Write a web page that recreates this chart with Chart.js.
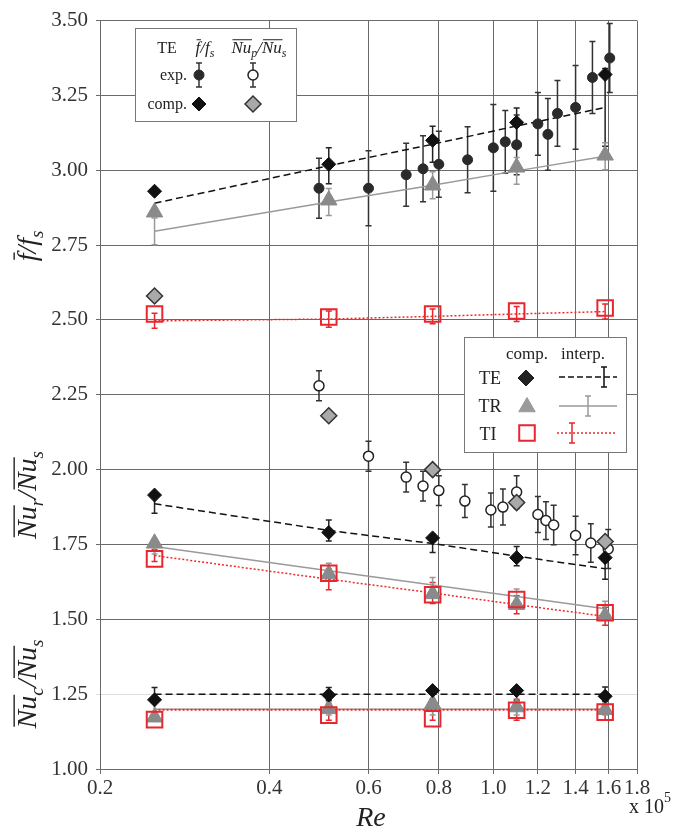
<!DOCTYPE html>
<html>
<head>
<meta charset="utf-8">
<script src="https://cdn.jsdelivr.net/npm/chart.js@4.4.0/dist/chart.umd.min.js"></script>
<style>
  html, body { margin: 0; padding: 0; background: #fff; }
</style>
</head>
<body>
<canvas id="c" width="674" height="836"></canvas>
<script>
// Re in units of 10^5
const compRe = [0.25, 0.51, 0.78, 1.10, 1.58];
const xTicks = [0.2, 0.4, 0.6, 0.8, 1.0, 1.2, 1.4, 1.6, 1.8];

// f/fs (TE, TR, TI computations + interpolation)
const ffTeComp = [2.93, 3.02, 3.10, 3.16, 3.32];
const ffTrComp = [2.86, 2.90, 2.95, 3.01, 3.05];
const ffTiComp = [2.52, 2.51, 2.52, 2.53, 2.54];
const ffTeInterp = [2.89, 3.015, 3.087, 3.148, 3.21];
const ffTeInterpErr = [0, 0.06, 0.06, 0.06, 0.13];
const ffTrInterp = [2.796, 2.894, 2.95, 2.998, 3.047];
const ffTrInterpErr = [0.045, 0.045, 0.045, 0.045, 0.045];
const ffTiInterp = [2.497, 2.503, 2.512, 2.52, 2.528];
const ffTiInterpErr = [0.025, 0.027, 0.025, 0.025, 0.025];

// f/fs experiments (TE)
const ffExpRe = [0.49, 0.60, 0.70, 0.75, 0.80, 0.90, 1.00, 1.05, 1.10, 1.20, 1.25, 1.30, 1.40, 1.50, 1.61];
const ffExp = [2.94, 2.94, 2.985, 3.005, 3.02, 3.035, 3.075, 3.095, 3.085, 3.155, 3.12, 3.19, 3.21, 3.31, 3.375];
const ffExpErr = [0.10, 0.125, 0.105, 0.11, 0.11, 0.11, 0.145, 0.105, 0.10, 0.105, 0.12, 0.11, 0.14, 0.12, 0.115];

// Nu_p/Nu_s (TE)
const nupComp = [2.58, 2.18, 2.00, 1.89, 1.76];
const nupExpRe = [0.49, 0.60, 0.70, 0.75, 0.80, 0.89, 0.99, 1.04, 1.10, 1.20, 1.24, 1.28, 1.40, 1.49, 1.60];
const nupExp = [2.28, 2.045, 1.975, 1.945, 1.93, 1.895, 1.865, 1.875, 1.925, 1.85, 1.83, 1.815, 1.78, 1.755, 1.735];
const nupExpErr = [0.05, 0.05, 0.05, 0.05, 0.05, 0.055, 0.057, 0.06, 0.055, 0.06, 0.063, 0.066, 0.064, 0.064, 0.065];

// Nu_r/Nu_s
const nurTeComp = [1.915, 1.79, 1.772, 1.706, 1.706];
const nurTrComp = [1.754, 1.651, 1.585, 1.549, 1.512];
const nurTiComp = [1.702, 1.654, 1.582, 1.566, 1.522];
const nurTeInterp = [1.886, 1.797, 1.753, 1.711, 1.669];
const nurTeInterpErr = [0.032, 0.035, 0.03, 0.032, 0.035];
const nurTrInterp = [1.743, 1.662, 1.615, 1.576, 1.535];
const nurTrInterpErr = [0.025, 0.025, 0.025, 0.025, 0.025];
const nurTiInterp = [1.713, 1.634, 1.588, 1.549, 1.51];
const nurTiInterpErr = [0.02, 0.035, 0.035, 0.03, 0.03];

// Nu_c/Nu_s
const nucTeComp = [1.231, 1.247, 1.262, 1.262, 1.243];
const nucTrComp = [1.173, 1.201, 1.218, 1.207, 1.198];
const nucTiComp = [1.165, 1.18, 1.168, 1.196, 1.19];
const nucTeInterp = [1.25, 1.25, 1.25, 1.25, 1.25];
const nucTeInterpErr = [0.022, 0.022, 0.022, 0.022, 0.024];
const nucTrInterp = [1.20, 1.20, 1.20, 1.20, 1.20];
const nucTrInterpErr = [0.02, 0.02, 0.02, 0.02, 0.02];
const nucTiInterp = [1.198, 1.198, 1.198, 1.198, 1.198];
const nucTiInterpErr = [0.035, 0.035, 0.035, 0.035, 0.035];

const SERIF = '"Liberation Serif", "DejaVu Serif", serif';
const RED = '#e8262e';

const pts = (xs, ys) => xs.map((x, i) => ({ x: x, y: ys[i] }));

function interpLine(ys, errs, kind, width) {
  const st = {
    te: { borderColor: '#111', borderDash: [7, 4], errColor: '#222' },
    tr: { borderColor: '#9a9a9a', borderDash: [], errColor: '#999' },
    ti: { borderColor: '#ee2b2b', borderDash: [2, 2], errColor: RED }
  }[kind];
  return {
    type: 'line', data: pts(compRe, ys), errs: errs, errColor: st.errColor,
    borderColor: st.borderColor, borderDash: st.borderDash, borderWidth: width || 1.5,
    pointRadius: 0, fill: false, tension: 0
  };
}

const datasets = [
  { // TI comp
    data: pts(compRe, ffTiComp).concat(pts(compRe, nurTiComp), pts(compRe, nucTiComp)),
    pointStyle: 'rect', pointRadius: 11, backgroundColor: 'rgba(0,0,0,0)',
    borderColor: RED, pointBorderWidth: 2, showLine: false
  },
  { // TE comp f/fs and Nu_r, Nu_c
    data: pts(compRe, ffTeComp).concat(pts(compRe, nurTeComp), pts(compRe, nucTeComp)),
    pointStyle: 'rectRot', pointRadius: 7, backgroundColor: '#111',
    borderColor: '#111', pointBorderWidth: 1, showLine: false
  },
  { // TR comp
    data: pts(compRe, ffTrComp).concat(pts(compRe, nurTrComp), pts(compRe, nucTrComp)),
    pointStyle: 'triangle', pointRadius: 9.5, backgroundColor: '#8a8a8a',
    borderColor: '#8a8a8a', pointBorderWidth: 1, showLine: false
  },
  { // TE comp Nu_p
    data: pts(compRe, nupComp),
    pointStyle: 'rectRot', pointRadius: 8, backgroundColor: '#a9a9a9',
    borderColor: '#333', pointBorderWidth: 1.5, showLine: false
  },
  { // exp f/fs
    data: pts(ffExpRe, ffExp), errs: ffExpErr, errColor: '#333',
    pointStyle: 'circle', pointRadius: 5, backgroundColor: '#2a2a2a',
    borderColor: '#2a2a2a', pointBorderWidth: 1, showLine: false
  },
  { // exp Nu_p
    data: pts(nupExpRe, nupExp), errs: nupExpErr, errColor: '#333',
    pointStyle: 'circle', pointRadius: 5, backgroundColor: '#fff',
    borderColor: '#222', pointBorderWidth: 1.5, showLine: false
  },
  interpLine(ffTiInterp, ffTiInterpErr, 'ti'),
  interpLine(nurTiInterp, nurTiInterpErr, 'ti'),
  interpLine(nucTiInterp, nucTiInterpErr, 'ti', 2.2),
  interpLine(ffTeInterp, ffTeInterpErr, 'te'),
  interpLine(nurTeInterp, nurTeInterpErr, 'te'),
  interpLine(nucTeInterp, nucTeInterpErr, 'te'),
  interpLine(ffTrInterp, ffTrInterpErr, 'tr'),
  interpLine(nurTrInterp, nurTrInterpErr, 'tr'),
  interpLine(nucTrInterp, nucTrInterpErr, 'tr')
];

function errBar(ctx, px, top, bot, cap) {
  ctx.beginPath();
  ctx.moveTo(px, top); ctx.lineTo(px, bot);
  ctx.moveTo(px - cap, top); ctx.lineTo(px + cap, top);
  ctx.moveTo(px - cap, bot); ctx.lineTo(px + cap, bot);
  ctx.stroke();
}

const errorBars = {
  id: 'errorBars',
  beforeDatasetsDraw(chart) {
    const ctx = chart.ctx, xs = chart.scales.x, ys = chart.scales.y;
    chart.data.datasets.forEach(ds => {
      if (!ds.errs) return;
      ctx.save();
      ctx.strokeStyle = ds.errColor;
      ctx.lineWidth = 1.5;
      ds.data.forEach((p, i) => {
        const e = ds.errs[i];
        if (!e) return;
        errBar(ctx, xs.getPixelForValue(p.x), ys.getPixelForValue(p.y + e), ys.getPixelForValue(p.y - e), 3);
      });
      ctx.restore();
    });
  }
};

// text with overlines / subscripts, baseline at (x0, y0), centered on x0
function mathText(ctx, parts, x0, y0, size) {
  const main = 'italic ' + size + 'px ' + SERIF;
  const sub = 'italic ' + Math.round(size * 0.68) + 'px ' + SERIF;
  let w = 0;
  parts.forEach(p => { ctx.font = p.sub ? sub : main; p.w = ctx.measureText(p.t).width; w += p.w; });
  let x = x0 - w / 2;
  ctx.textAlign = 'left';
  ctx.textBaseline = 'alphabetic';
  parts.forEach(p => {
    ctx.font = p.sub ? sub : main;
    ctx.fillText(p.t, x, y0 + (p.sub ? size * 0.25 : 0));
    if (p.over) {
      ctx.beginPath();
      ctx.lineWidth = Math.max(1, size / 20);
      const oy = y0 - size * 0.78;
      ctx.moveTo(x + size * 0.06, oy); ctx.lineTo(x + p.w + size * 0.04, oy);
      ctx.stroke();
    }
    x += p.w;
  });
}

const ffParts = () => [{ t: 'f', over: true }, { t: '/' }, { t: 'f' }, { t: 's', sub: true }];
const nuParts = (s) => [{ t: 'Nu', over: true }, { t: s, sub: true }, { t: '/' }, { t: 'Nu', over: true }, { t: 's', sub: true }];

function marker(ctx, style, x, y, r, fill, stroke, bw) {
  ctx.save();
  ctx.fillStyle = fill; ctx.strokeStyle = stroke; ctx.lineWidth = bw;
  Chart.helpers.drawPoint(ctx, { pointStyle: style, radius: r, rotation: 0, borderWidth: bw }, x, y);
  ctx.restore();
}

const annotations = {
  id: 'annotations',
  afterDraw(chart) {
    const ctx = chart.ctx;
    ctx.save();
    ctx.fillStyle = '#222'; ctx.strokeStyle = '#222';

    // y titles
    [[ffParts(), 246], [nuParts('r'), 495], [nuParts('c'), 684]].forEach(([parts, yc]) => {
      ctx.save();
      ctx.translate(36, yc);
      ctx.rotate(-Math.PI / 2);
      mathText(ctx, parts, 0, 0, 28);
      ctx.restore();
    });

    // x title and multiplier
    ctx.font = 'italic 28px ' + SERIF;
    ctx.textAlign = 'center'; ctx.textBaseline = 'alphabetic';
    ctx.fillText('Re', 371, 826);
    ctx.font = '20px ' + SERIF;
    ctx.textAlign = 'right';
    ctx.fillText('x 10', 664, 813);
    ctx.font = '14px ' + SERIF;
    ctx.textAlign = 'left';
    ctx.fillText('5', 664, 802);

    // legend 1
    ctx.fillStyle = '#fff'; ctx.strokeStyle = '#777'; ctx.lineWidth = 1;
    ctx.fillRect(135.5, 28.5, 161, 93); ctx.strokeRect(135.5, 28.5, 161, 93);
    ctx.fillStyle = '#222'; ctx.strokeStyle = '#222';
    ctx.font = '16px ' + SERIF; ctx.textAlign = 'center'; ctx.textBaseline = 'alphabetic';
    ctx.fillText('TE', 167, 53);
    mathText(ctx, ffParts(), 205, 53, 17);
    mathText(ctx, [{ t: 'Nu', over: true }, { t: 'p', sub: true }, { t: '/' }, { t: 'Nu', over: true }, { t: 's', sub: true }], 259, 53, 17);
    ctx.font = '16px ' + SERIF; ctx.textAlign = 'right';
    ctx.fillText('exp.', 187, 80);
    ctx.fillText('comp.', 187, 109);
    ctx.strokeStyle = '#333'; ctx.lineWidth = 1.5;
    errBar(ctx, 199, 63, 87, 3);
    errBar(ctx, 253, 63, 87, 3);
    marker(ctx, 'circle', 199, 75, 5, '#2a2a2a', '#2a2a2a', 1);
    marker(ctx, 'circle', 253, 75, 5, '#fff', '#222', 1.5);
    marker(ctx, 'rectRot', 199, 104, 7, '#111', '#111', 1);
    marker(ctx, 'rectRot', 253, 104, 8, '#a9a9a9', '#333', 1.5);

    // legend 2
    ctx.fillStyle = '#fff'; ctx.strokeStyle = '#777'; ctx.lineWidth = 1;
    ctx.fillRect(464.5, 337.5, 162, 115); ctx.strokeRect(464.5, 337.5, 162, 115);
    ctx.fillStyle = '#222';
    ctx.font = '17px ' + SERIF; ctx.textAlign = 'center'; ctx.textBaseline = 'alphabetic';
    ctx.fillText('comp.', 527, 359);
    ctx.fillText('interp.', 583, 359);
    ctx.font = '18px ' + SERIF;
    ctx.fillText('TE', 490, 384);
    ctx.fillText('TR', 490, 412);
    ctx.fillText('TI', 488, 440);
    marker(ctx, 'rectRot', 526, 378, 8, '#222', '#222', 1);
    marker(ctx, 'triangle', 527, 407, 9.5, '#9a9a9a', '#9a9a9a', 1);
    marker(ctx, 'rect', 527, 433, 11, 'rgba(0,0,0,0)', RED, 2);
    ctx.lineWidth = 1.5;
    ctx.strokeStyle = '#111'; ctx.setLineDash([6, 3]);
    ctx.beginPath(); ctx.moveTo(559, 377); ctx.lineTo(617, 377); ctx.stroke();
    ctx.setLineDash([]); errBar(ctx, 604, 367, 387, 3);
    ctx.strokeStyle = '#9a9a9a';
    ctx.beginPath(); ctx.moveTo(559, 406); ctx.lineTo(617, 406); ctx.stroke();
    errBar(ctx, 588, 396, 416, 3);
    ctx.strokeStyle = '#ee2b2b'; ctx.setLineDash([2, 2]);
    ctx.beginPath(); ctx.moveTo(557, 433); ctx.lineTo(616, 433); ctx.stroke();
    ctx.setLineDash([]); ctx.strokeStyle = RED; errBar(ctx, 572, 423, 443, 3);

    ctx.restore();
  }
};

new Chart(document.getElementById('c'), {
  type: 'scatter',
  data: { datasets: datasets },
  options: {
    responsive: false,
    animation: false,
    layout: { padding: { top: 15, right: 37, left: 0, bottom: 0 } },
    plugins: { legend: { display: false }, tooltip: { enabled: false } },
    scales: {
      x: {
        type: 'logarithmic', min: 0.2, max: 1.8,
        afterBuildTicks: s => { s.ticks = xTicks.map(v => ({ value: v })); },
        afterFit: s => { s.height = 67; },
        ticks: {
          callback: v => Number(v).toFixed(1), autoSkip: false, maxRotation: 0,
          padding: 2, color: '#333', font: { family: SERIF, size: 21 }
        },
        grid: { color: '#6a6a6a', lineWidth: 1, tickLength: 5 },
        border: { color: '#6a6a6a' }
      },
      y: {
        type: 'linear', min: 1, max: 3.5,
        afterFit: s => { s.width = 100; },
        ticks: {
          stepSize: 0.25, callback: v => Number(v).toFixed(2),
          padding: 8, color: '#333', font: { family: SERIF, size: 21 }
        },
        grid: {
          color: c => (c.tick && Math.abs(c.tick.value - 1.25) < 1e-6) ? '#dedede' : '#6a6a6a',
          lineWidth: 1, tickLength: 4
        },
        border: { color: '#6a6a6a' }
      }
    }
  },
  plugins: [errorBars, annotations]
});
</script>
</body>
</html>
